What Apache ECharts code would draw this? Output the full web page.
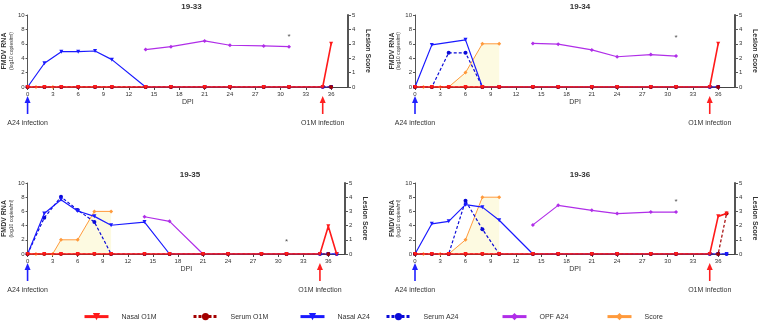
<!DOCTYPE html>
<html>
<head>
<meta charset="utf-8">
<script src="https://cdn.jsdelivr.net/npm/echarts@6/dist/echarts.min.js"></script>
<style>
  html, body { margin: 0; padding: 0; background: #fff; }
  #chart { width: 760px; height: 321px; }
</style>
</head>
<body>
<div id="chart"></div>
<script>
// sampling days
const nasalDays = [0, 2, 4, 6, 8, 10, 14, 17, 21, 24, 28, 31, 35, 36, 37]
const opfDays = [14, 17, 21, 24, 28, 31]
const scoreDays = [0, 1, 3, 4, 6, 8, 10]
const xTicks = [0, 3, 6, 9, 12, 15, 18, 21, 24, 27, 30, 33, 36]

const animals = ['19-33', '19-34', '19-35', '19-36']

// log10 copies/ml, one row per animal, aligned with nasalDays
const nasalO1M = [
  [0, 0, 0, 0, 0, 0, 0, 0, 0, 0, 0, 0, 0, 6.0, null],
  [0, 0, 0, 0, 0, 0, 0, 0, 0, 0, 0, 0, 0, 6.0, null],
  [0, 0, 0, 0, 0, 0, 0, 0, 0, 0, 0, 0, 0, 3.9, 0],
  [0, 0, 0, 0, 0, 0, 0, 0, 0, 0, 0, 0, 0, 5.3, 5.7]
]
const serumO1M = [
  [0, 0, 0, 0, 0, 0, 0, 0, 0, 0, 0, 0, null, 0, null],
  [0, 0, 0, 0, 0, 0, 0, 0, 0, 0, 0, 0, null, 0, null],
  [0, 0, 0, 0, 0, 0, 0, 0, 0, 0, 0, 0, null, 0, null],
  [0, 0, 0, 0, 0, 0, 0, 0, 0, 0, 0, 0, null, 0, 5.7]
]
const nasalA24 = [
  [0, 3.3, 4.9, 4.9, 5.0, 3.8, 0, 0, 0, 0, 0, 0, 0, 0, null],
  [0, 5.85, null, 6.55, 0, 0, 0, 0, 0, 0, 0, 0, 0, 0, null],
  [0, 5.7, 7.65, 6.05, 5.3, 4.05, 4.5, 0, 0, 0, 0, 0, 0, 0, 0],
  [0, 4.25, 4.6, 6.95, 6.6, 4.75, 0, 0, 0, 0, 0, 0, 0, 0, 0]
]
const serumA24 = [
  [0, 0, 0, 0, 0, 0, 0, 0, 0, 0, 0, 0, 0, 0, null],
  [0, 0, 4.75, 4.75, 0, 0, 0, 0, 0, 0, 0, 0, 0, 0, null],
  [0, 5.1, 8.05, 6.2, 4.5, 0, 0, 0, 0, 0, 0, 0, 0, 0, 0],
  [0, 0, 0, 7.5, 3.5, 0, 0, 0, 0, 0, 0, 0, 0, 0, 0]
]
// aligned with opfDays
const opfA24 = [
  [5.2, 5.6, 6.4, 5.8, 5.7, 5.6],
  [6.05, 5.95, 5.15, 4.2, 4.5, 4.3],
  [5.25, 4.6, 0, null, null, null],
  [4.1, 6.85, 6.15, 5.7, 5.9, 5.9]
]
// lesion score, aligned with scoreDays
const lesionScore = [
  [0, 0, 0, 0, 0, 0, 0],
  [0, 0, 0, 0, 1, 3, 3],
  [0, 0, 0, 1, 1, 3, 3],
  [0, 0, 0, 0, 1, 4, 4]
]
// asterisk above OPF at day 31
const starY = [7.0, 6.9, 1.7, 7.3]

const grids = [
  { left: 25, right: 412, top: 15, height: 72 },
  { left: 415, right: 25, top: 15, height: 72 },
  { left: 25, right: 415, top: 183, height: 71 },
  { left: 415, right: 25, top: 183, height: 71 }
]

const FONT = 'Liberation Sans, Arial, sans-serif'
const C = {
  nasalO1M: '#ff1a1a',
  serumO1M: '#a30000',
  nasalA24: '#1a1aff',
  serumA24: '#0a0ad8',
  opf: '#b02ee8',
  score: '#ff9a3c'
}

const pairs = (days, vals) => days.map((d, i) => [d, vals[i] === undefined ? null : vals[i]])

const chart = echarts.init(document.getElementById('chart'))

const xAxis = [], yAxis = [], series = [], title = []
grids.forEach((g, i) => {
  const center = g.left + (760 - g.left - g.right) / 2
  title.push({
    text: animals[i], left: center, top: g.top - 17, textAlign: 'center',
    textStyle: { fontSize: 8, fontWeight: 'bold', color: '#333', fontFamily: FONT }
  })
  xAxis.push({
    type: 'value', gridIndex: i, min: 0, max: 38,
    name: 'DPI', nameLocation: 'middle', nameGap: 12,
    nameTextStyle: { fontSize: 7, color: '#333', fontFamily: FONT },
    axisLine: { lineStyle: { color: '#444', width: 1 } },
    axisTick: { length: 3, customValues: xTicks, lineStyle: { color: '#444' } },
    axisLabel: { customValues: xTicks, fontSize: 6, color: '#333', margin: 4, fontFamily: FONT },
    splitLine: { show: false }
  })
  yAxis.push({
    type: 'value', gridIndex: i, min: 0, max: 10, interval: 2,
    name: '{a|FMDV RNA}\n{b|(log10 copies/ml)}', nameLocation: 'middle', nameGap: 9,
    nameTextStyle: {
      fontFamily: FONT, color: '#333',
      rich: { a: { fontSize: 7, fontWeight: 'bold', lineHeight: 8 }, b: { fontSize: 5, lineHeight: 6 } }
    },
    axisLine: { show: true, lineStyle: { color: '#555', width: 1 } },
    axisTick: { show: true, length: 2, lineStyle: { color: '#555' } },
    axisLabel: { fontSize: 6, color: '#333', margin: 3, fontFamily: FONT },
    splitLine: { show: false }
  })
  yAxis.push({
    type: 'value', gridIndex: i, position: 'right', min: 0, max: 5, interval: 1,
    name: 'Lesion Score', nameLocation: 'middle', nameGap: 16, nameRotate: -90,
    nameTextStyle: { fontSize: 7, fontWeight: 'bold', color: '#333', fontFamily: FONT },
    axisLine: { show: true, lineStyle: { color: '#555', width: 2 } },
    axisTick: { show: true, length: 3, lineStyle: { color: '#555' } },
    axisLabel: { fontSize: 6, color: '#333', margin: 4, fontFamily: FONT },
    splitLine: { show: false }
  })

  const base = { xAxisIndex: i, yAxisIndex: 2 * i, type: 'line', connectNulls: true, animation: false }
  series.push({
    ...base, name: 'Score', yAxisIndex: 2 * i + 1, z: 2,
    data: pairs(scoreDays, lesionScore[i]),
    symbol: 'diamond', symbolSize: 4,
    lineStyle: { color: C.score, width: 1 }, itemStyle: { color: C.score },
    areaStyle: { color: 'rgba(250, 240, 160, 0.45)' }
  })
  series.push({
    ...base, name: 'OPF A24', z: 3, data: pairs(opfDays, opfA24[i]),
    symbol: 'diamond', symbolSize: 4,
    lineStyle: { color: C.opf, width: 1.2 }, itemStyle: { color: C.opf }
  })
  series.push({
    ...base, name: 'Serum A24', z: 4, data: pairs(nasalDays, serumA24[i]),
    symbol: 'circle', symbolSize: 4,
    lineStyle: { color: C.serumA24, width: 1.2, type: [3, 2] }, itemStyle: { color: C.serumA24 }
  })
  series.push({
    ...base, name: 'Nasal A24', z: 5, data: pairs(nasalDays, nasalA24[i]),
    symbol: 'triangle', symbolRotate: 180, symbolSize: 4,
    lineStyle: { color: C.nasalA24, width: 1.2 }, itemStyle: { color: C.nasalA24 }
  })
  series.push({
    ...base, name: 'Serum O1M', z: 6, data: pairs(nasalDays, serumO1M[i]),
    symbol: 'circle', symbolSize: 4,
    lineStyle: { color: C.serumO1M, width: 1.2, type: [3, 2] }, itemStyle: { color: C.serumO1M }
  })
  series.push({
    ...base, name: 'Nasal O1M', z: 7, data: pairs(nasalDays, nasalO1M[i]),
    symbol: 'triangle', symbolRotate: 180, symbolSize: 4,
    lineStyle: { color: C.nasalO1M, width: 1.6 }, itemStyle: { color: C.nasalO1M }
  })
  series.push({
    type: 'scatter', xAxisIndex: i, yAxisIndex: 2 * i, z: 8, animation: false,
    data: [[31, starY[i]]], symbolSize: 0, silent: true,
    label: { show: true, position: 'inside', formatter: '*', fontSize: 8, color: '#222', fontFamily: FONT }
  })
})

// legend: one component per item so the spacing follows the reference
const legendNames = ['Nasal O1M', 'Serum O1M', 'Nasal A24', 'Serum A24', 'OPF A24', 'Score']
const legendLeft = [78, 187, 294, 380, 496, 601]
const legend = legendNames.map((n, i) => ({
  data: [n], left: legendLeft[i], top: 308,
  itemWidth: 24, itemHeight: 9, symbolRotate: 'inherit',
  lineStyle: { width: 3 },
  textStyle: { fontSize: 7, color: '#333', fontFamily: FONT, padding: [0, 0, 0, 8] },
  selectedMode: false
}))

chart.setOption({
  backgroundColor: '#fff',
  animation: false,
  title, grid: grids, xAxis, yAxis, series, legend
})

// infection arrows, placed through the axes
const infections = [
  { day: 0, text: 'A24 infection', color: '#2020ff' },
  { day: 35, text: 'O1M infection', color: '#ff2020' }
]
const graphic = []
grids.forEach((g, i) => {
  const yb = chart.convertToPixel({ yAxisIndex: 2 * i }, 0)
  infections.forEach(inf => {
    const px = chart.convertToPixel({ xAxisIndex: i }, inf.day)
    graphic.push({
      type: 'line', shape: { x1: px, y1: yb + 14, x2: px, y2: yb + 27 },
      style: { stroke: inf.color, lineWidth: 1.6 }
    })
    graphic.push({
      type: 'polygon', shape: { points: [[px, yb + 9], [px - 3, yb + 16], [px + 3, yb + 16]] },
      style: { fill: inf.color }
    })
    graphic.push({
      type: 'text', x: px, y: yb + 36,
      style: { text: inf.text, fontSize: 7, fill: '#333', fontFamily: FONT, align: 'center', verticalAlign: 'middle' }
    })
  })
})
chart.setOption({ graphic })
</script>
</body>
</html>
